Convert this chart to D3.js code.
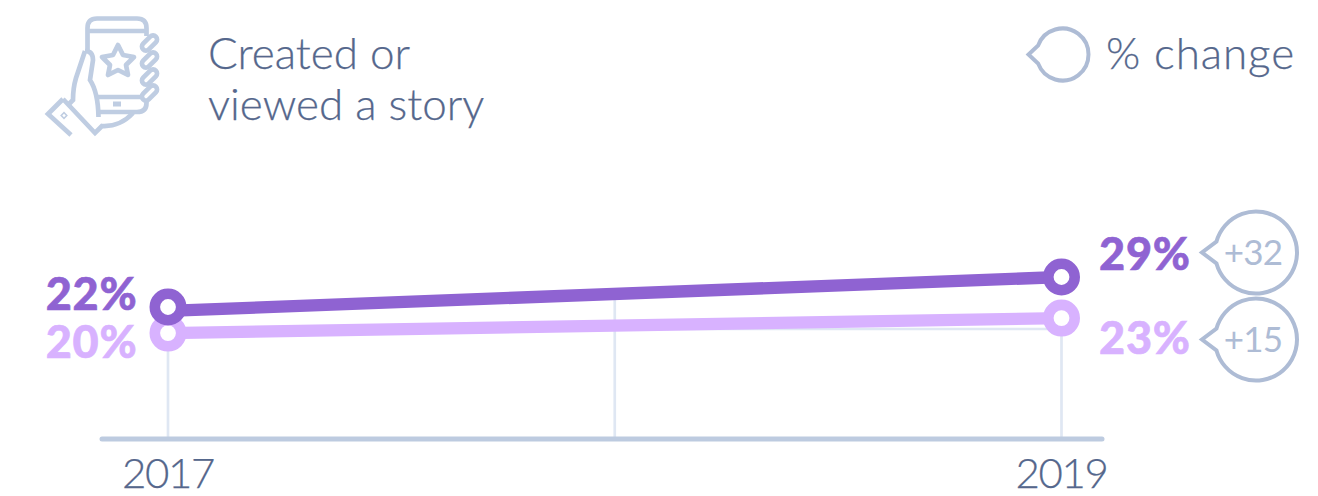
<!DOCTYPE html>
<html>
<head>
<meta charset="utf-8">
<script src="https://cdn.jsdelivr.net/npm/d3@7"></script>
<style>
  html, body { margin: 0; padding: 0; background: #fff; }
  svg { display: block; }
  text { font-family: Lato, sans-serif; }
  .light { font-weight: 300; fill: #55678c; stroke: #55678c; stroke-width: 0.25; }
  .value { font-weight: 900; letter-spacing: 0.8px; stroke-width: 0.6; }
</style>
</head>
<body>
<div id="vis-container"></div>
<script>
//the data
let years = [2017, 2019];
let gridYears = [2017, 2018, 2019];

//heights as they sit in the picture (the printed labels do not line up with one linear scale)
let darkLine = [22.9, 29];
let darkPoints = [23.6, 29];
let paleLine = [18.9, 21.6];
let palePoints = [18.9, 21.6];

let darkLabels = ["22%", "29%"];
let paleLabels = ["20%", "23%"];
let changes = ["+32", "+15"];

let titleLines = ["Created or", "viewed a story"];
let legendLabel = "% change";

let width = 1318, height = 496;

let svg = d3.select("#vis-container")
  .append("svg")
  .attr("width", width)
  .attr("height", height);

//scales
let x = d3.scaleLinear().domain([2017, 2019]).range([168, 1061.5]);
let y = d3.scaleLinear().domain([0, 29]).range([438, 277]);

//vertical grid
svg.selectAll(".grid")
  .data(gridYears)
  .enter()
  .append("line")
    .attr("class", "grid")
    .attr("x1", d => x(d))
    .attr("x2", d => x(d))
    .attr("y1", 438)
    .attr("y2", 300)
    .attr("stroke", "#dfe7f3")
    .attr("stroke-width", 2.7);

//faint line under the pale series
svg.append("line")
  .attr("x1", x(2018))
  .attr("x2", x(2019))
  .attr("y1", 329)
  .attr("y2", 329)
  .attr("stroke", "#dfe7f3")
  .attr("stroke-width", 2.5);

//axis line
svg.append("line")
  .attr("x1", 102)
  .attr("x2", 1102)
  .attr("y1", 439)
  .attr("y2", 439)
  .attr("stroke", "#bdcbe0")
  .attr("stroke-width", 5)
  .attr("stroke-linecap", "round");

//year labels
svg.selectAll(".year")
  .data(years)
  .enter()
  .append("text")
    .attr("class", "year light")
    .attr("x", d => x(d))
    .attr("y", 487.5)
    .attr("text-anchor", "middle")
    .attr("font-size", 42)
    .attr("letter-spacing", -1.4)
    .text(d => d);

//series
let line = d3.line()
  .x((d, i) => x(years[i]))
  .y(d => y(d));

function drawSeries(lineValues, pointValues, color) {
  svg.append("path")
    .attr("d", line(lineValues))
    .attr("fill", "none")
    .attr("stroke", color)
    .attr("stroke-width", 12.3);

  svg.selectAll(null)
    .data(pointValues)
    .enter()
    .append("circle")
      .attr("cx", (d, i) => x(years[i]))
      .attr("cy", d => y(d))
      .attr("r", 13.2)
      .attr("fill", "#fff")
      .attr("stroke", color)
      .attr("stroke-width", 10.6);
}

drawSeries(paleLine, palePoints, "#d8b2ff");
drawSeries(darkLine, darkPoints, "#8f63d2");

//value labels
function drawLabels(labels, color, y0, y1) {
  svg.append("text").attr("class", "value")
    .attr("x", 137.5).attr("y", y0)
    .attr("text-anchor", "end").attr("font-size", 45)
    .attr("fill", color).attr("stroke", color).text(labels[0]);
  svg.append("text").attr("class", "value")
    .attr("x", 1099).attr("y", y1)
    .attr("font-size", 45)
    .attr("fill", color).attr("stroke", color).text(labels[1]);
}
drawLabels(darkLabels, "#8f63d2", 310, 270);
drawLabels(paleLabels, "#d8b2ff", 358, 353.5);

//speech bubble: circle with a small point on the left
function bubble(cx, cy, r, a, tipLen, color) {
  let sx = cx - r * Math.cos(a), sy = cy - r * Math.sin(a);
  let ex = cx - r * Math.cos(a), ey = cy + r * Math.sin(a);
  let tip = cx - r - tipLen;
  svg.append("path")
    .attr("d", `M${sx},${sy} A${r},${r} 0 1 1 ${ex},${ey} L${tip},${cy} Z`)
    .attr("fill", "#fff")
    .attr("stroke", color)
    .attr("stroke-width", 4)
    .attr("stroke-linejoin", "miter");
}

let bubbleY = [252.5, 339.5];
bubbleY.forEach((cy, i) => {
  bubble(1256, cy, 41, 0.27, 13, "#aebcd5");
  svg.append("text")
    .attr("x", 1253)
    .attr("y", cy + 12.5)
    .attr("text-anchor", "middle")
    .attr("font-size", 35)
    .attr("font-weight", 400)
    .attr("letter-spacing", -0.8)
    .attr("fill", "#aebcd5")
    .text(changes[i]);
});

//legend
bubble(1062.5, 54.5, 26, 0.36, 8, "#aebcd5");
svg.append("text")
  .attr("class", "light")
  .attr("x", 1106)
  .attr("y", 69)
  .attr("font-size", 44)
  .attr("letter-spacing", 0.9)
  .text(legendLabel);

//title
svg.selectAll(".title")
  .data(titleLines)
  .enter()
  .append("text")
    .attr("class", "title light")
    .attr("x", 208)
    .attr("y", (d, i) => 69 + i * 51)
    .attr("font-size", 44)
    .text(d => d);

//phone icon
let icon = svg.append("g")
  .attr("fill", "none")
  .attr("stroke", "#bfcde2")
  .attr("stroke-width", 4.7);

//phone body
icon.append("path").attr("d", "M87.5,52 V28 Q87.5,18.5 97,18.5 H137 Q146.5,18.5 146.5,28 V36");
icon.append("line").attr("x1", 87.5).attr("x2", 146.5).attr("y1", 31).attr("y2", 31);
icon.append("path").attr("d", "M98,97 H143 M99,112 H137 Q146.5,112 146.5,103 V99");
icon.append("rect").attr("x", 113).attr("y", 101.5).attr("width", 8).attr("height", 5)
  .attr("fill", "#bfcde2").attr("stroke", "none");

//star
icon.append("path").attr("d", "M118,45 L123,55 L134,57 L126,65 L128,75 L118,70 L108,75 L110,65 L102,57 L113,55 Z")
  .attr("stroke-linejoin", "round");

//fingers
[43, 60, 77, 93].forEach(c => {
  icon.append("rect")
    .attr("x", 140.5).attr("y", c - 4)
    .attr("width", 18).attr("height", 8)
    .attr("rx", 4)
    .attr("fill", "#fff")
    .attr("transform", `rotate(-45 149.5 ${c})`);
});

//hand and cuff
icon.append("path").attr("d", "M85,51 L76,78 Q73,88 73,100 L69,104");
icon.append("path").attr("d", "M85,51 Q93,51 93,60 L90,80 Q98,92 98.5,117");
icon.append("path").attr("d", "M63,99 L48,114 L71,135");
icon.append("path").attr("d", "M63,99 L95,133 L102,126 Q120,127 133,113");
icon.append("rect").attr("x", 62).attr("y", 113.5).attr("width", 4).attr("height", 4)
  .attr("stroke-width", 1.5)
  .attr("transform", "rotate(45 64 115.5)");
</script>
</body>
</html>
